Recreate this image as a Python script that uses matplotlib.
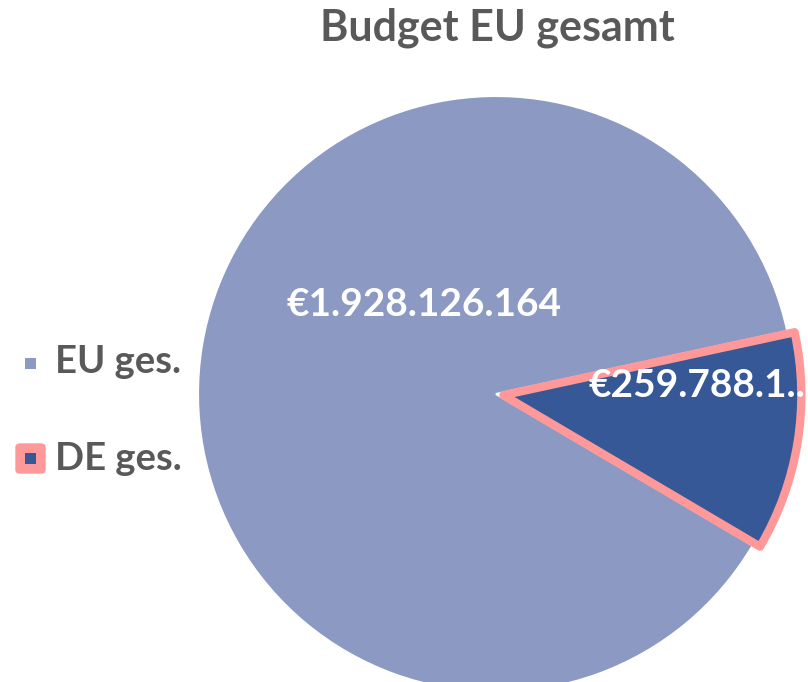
import matplotlib.pyplot as plt
from matplotlib.patches import Rectangle, FancyBboxPatch

# data
categories = ["EU ges.", "DE ges."]
values = [1928126164, 259788100]
value_labels = ["€1.928.126.164", "€259.788.1.."]
colors = ["#8C9AC3", "#365896"]
title = "Budget EU gesamt"

W, H = 808, 682
plt.rcParams['font.family'] = ['Lato', 'DejaVu Sans']
grey = "#595959"

fig = plt.figure(figsize=(W / 100, H / 100), dpi=100)

def fx(x):
    return x / W

def fy(y):
    return 1 - y / H

# pie axes: center ~ (496, 394) px, radius ~298 px
cx, cy, r = 496, 394, 298
ax = fig.add_axes([fx(cx - r), fy(cy + r), 2 * r / W, 2 * r / H])
wedges, _ = ax.pie(values, colors=colors, startangle=12.2, counterclock=True,
                   explode=[0, 0.025], radius=1.0,
                   wedgeprops=dict(edgecolor="white", linewidth=1.5))
wedges[1].set_edgecolor("#FF9999")
wedges[1].set_linewidth(6)
wedges[1].set_joinstyle("round")
for w in wedges:
    w.set_clip_on(False)
ax.set_xlim(-1, 1)
ax.set_ylim(-1, 1)
ax.set_aspect("equal")
ax.axis("off")

ax.text(-0.24, 0.30, value_labels[0], ha="center", va="center", color="white",
        fontsize=28, fontweight="bold", clip_on=False)
ax.text(0.675, 0.03, value_labels[1], ha="center", va="center", color="white",
        fontsize=28, fontweight="bold", clip_on=False)

fig.text(fx(497), fy(28), title, ha="center", va="center", color=grey,
         fontsize=31, fontweight="bold")

# legend
fig.add_artist(Rectangle((fx(25), fy(369)), fx(11), 11 / H, transform=fig.transFigure,
                         facecolor=colors[0], edgecolor="none"))
fig.text(fx(55), fy(362), categories[0], ha="left", va="center", color=grey,
         fontsize=27.5, fontweight="bold")

fig.add_artist(FancyBboxPatch((fx(16), fy(473)), fx(29), 29 / H,
                              boxstyle="round,pad=0.0,rounding_size=0.005",
                              transform=fig.transFigure,
                              facecolor="#FF9999", edgecolor="#FF9999", linewidth=1))
fig.add_artist(Rectangle((fx(25), fy(464)), fx(11), 11 / H, transform=fig.transFigure,
                         facecolor=colors[1], edgecolor="none"))
fig.text(fx(55), fy(459), categories[1], ha="left", va="center", color=grey,
         fontsize=27.5, fontweight="bold")

fig.savefig("out.png", dpi=100)
